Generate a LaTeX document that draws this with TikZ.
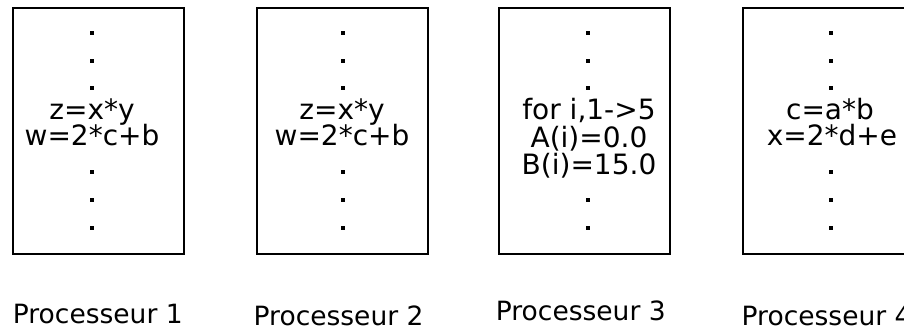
\documentclass[tikz,border=0pt]{standalone}
\usepackage{fontspec}
\setmainfont{DejaVu Sans}
\begin{document}
\begin{tikzpicture}[x=1pt,y=-1pt,
  proc/.style={draw=black,line width=2pt,minimum width=171pt,minimum height=246pt,inner sep=0pt,anchor=north west},
  code/.style={anchor=base,inner sep=0pt,font=\fontsize{28}{28}\selectfont},
  lab/.style={anchor=base,inner sep=0pt,font=\fontsize{26.5}{26.5}\selectfont}]
\clip (0,0) rectangle (904,331);
\fill[white] (0,0) rectangle (904,331);
% boxes
\node[proc] (p1) at (12,7) {};
\node[proc] (p2) at (256,7) {};
\node[proc] (p3) at (498,7) {};
\node[proc] (p4) at (742,7) {};
% dots
\foreach \x in {92,343,831}{
  \foreach \y in {33,61,88,172,200,228}{
    \fill (\x-2,\y-2) rectangle +(4,4);
  }
}
\foreach \y in {33,61,88,200,228}{
  \fill (588-2,\y-2) rectangle +(4,4);
}
% code
\node[code] (c1a) at (92,119.5) {z=x*y};
\node[code] (c1b) at (92,146) {w=2*c+b};
\node[code] (c2a) at (342,119.5) {z=x*y};
\node[code] (c2b) at (342,146) {w=2*c+b};
\node[code] (c3a) at (589,120) {for i,1->5};
\node[code] (c3b) at (589,147.5) {A(i)=0.0};
\node[code] (c3c) at (589,175) {B(i)=15.0};
\node[code] (c4a) at (830,119.5) {c=a*b};
\node[code] (c4b) at (832,146) {x=2*d+e};
% labels
\node[lab] (l1) at (97.8,323) {Processeur 1};
\node[lab] (l2) at (338.6,325) {Processeur 2};
\node[lab] (l3) at (580.8,320) {Processeur 3};
\node[lab] (l4) at (826.6,325) {Processeur 4};
\end{tikzpicture}
\end{document}
